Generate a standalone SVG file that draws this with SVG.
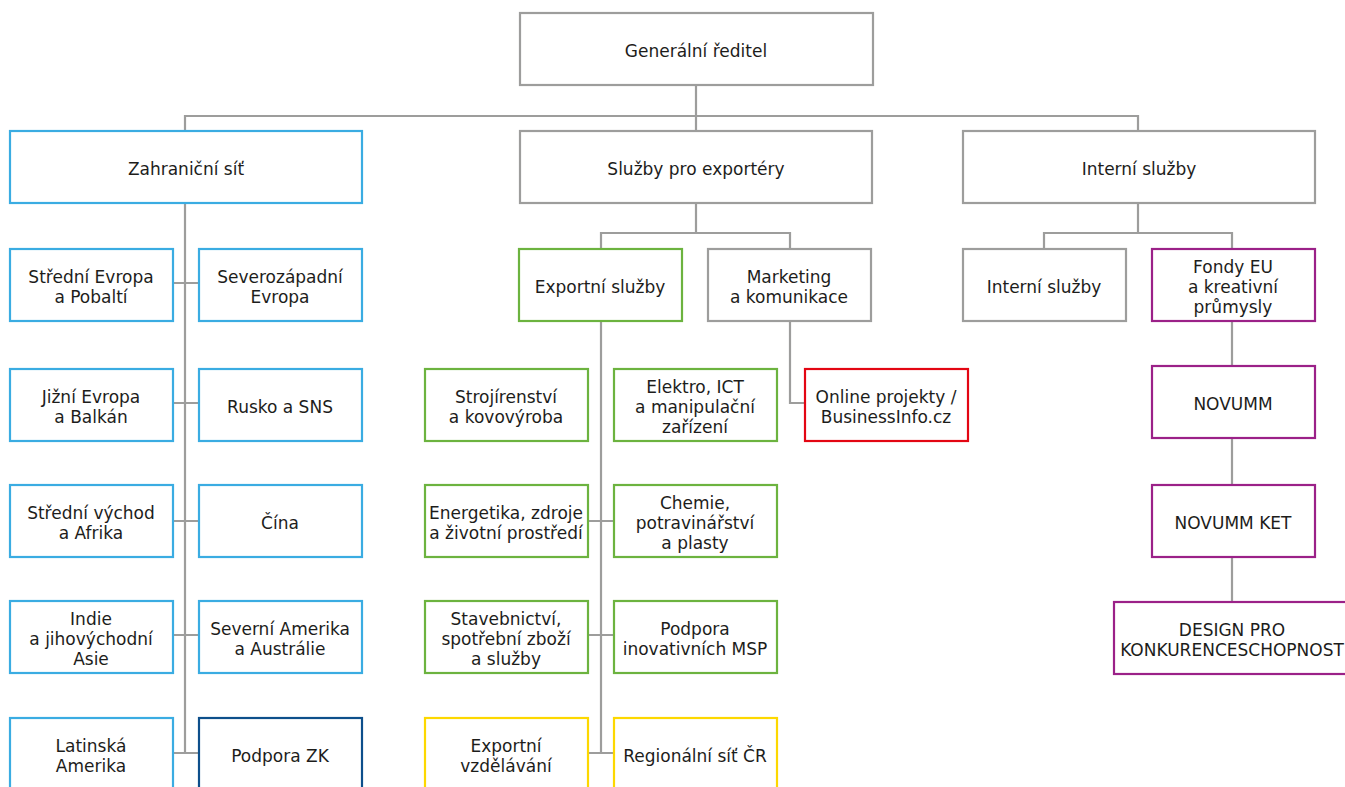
<svg xmlns="http://www.w3.org/2000/svg" width="1345" height="787" viewBox="0 0 1345 787">
<style>
rect{fill:#fff;stroke-width:2.2}
.g{stroke:#9d9d9c}
.b{stroke:#3aace2}
.db{stroke:#0d4f8b}
.gr{stroke:#6cb33f}
.y{stroke:#fdd800}
.r{stroke:#e30613}
.p{stroke:#9b2188}
text{font-family:"DejaVu Sans","Open Sans",sans-serif;font-size:17px;fill:#1d1d1b;text-anchor:middle}
.c path{fill:none;stroke:#9d9d9c;stroke-width:2.2}
</style>
<rect width="1345" height="787" fill="#fff" stroke="none"/>
<g class="c" id="connectors">
<path d="M696 86V131M185 131V116H1138V131"/>
<path d="M185 204V753M173 283H199M173 403H199M173 521H199M173 635H199M173 753H199"/>
<path d="M696 204V233M601 249V233H790V249"/>
<path d="M601 322V753M589 521H613M589 635H613M589 753H613"/>
<path d="M790 322V403H805"/>
<path d="M1138 204V233M1044 249V233H1232V249"/>
<path d="M1232 322V366M1232 439V485M1232 558V602"/>
</g>
<g id="n-gr"><rect class="g" x="520" y="13" width="353" height="72"/><text x="696" y="56.5">Generální ředitel</text></g>
<g id="n-zs"><rect class="b" x="10" y="131" width="352" height="72"/><text x="186" y="174.5">Zahraniční síť</text></g>
<g id="n-spe"><rect class="g" x="520" y="131" width="352" height="72"/><text x="696" y="174.5">Služby pro exportéry</text></g>
<g id="n-is"><rect class="g" x="963" y="131" width="352" height="72"/><text x="1139" y="174.5">Interní služby</text></g>

<g id="n-sep"><rect class="b" x="10" y="249" width="163" height="72"/><text x="91" y="283">Střední Evropa<tspan x="91" dy="20">a Pobaltí</tspan></text></g>
<g id="n-sze"><rect class="b" x="199" y="249" width="163" height="72"/><text x="280" y="283">Severozápadní<tspan x="280" dy="20">Evropa</tspan></text></g>
<g id="n-jeb"><rect class="b" x="10" y="369" width="163" height="72"/><text x="91" y="403">Jižní Evropa<tspan x="91" dy="20">a Balkán</tspan></text></g>
<g id="n-rs"><rect class="b" x="199" y="369" width="163" height="72"/><text x="280" y="412.5">Rusko a SNS</text></g>
<g id="n-sva"><rect class="b" x="10" y="485" width="163" height="72"/><text x="91" y="519">Střední východ<tspan x="91" dy="20">a Afrika</tspan></text></g>
<g id="n-cina"><rect class="b" x="199" y="485" width="163" height="72"/><text x="280" y="528.5">Čína</text></g>
<g id="n-ija"><rect class="b" x="10" y="601" width="163" height="72"/><text x="91" y="625">Indie<tspan x="91" dy="20">a jihovýchodní</tspan><tspan x="91" dy="20">Asie</tspan></text></g>
<g id="n-saa"><rect class="b" x="199" y="601" width="163" height="72"/><text x="280" y="635">Severní Amerika<tspan x="280" dy="20">a Austrálie</tspan></text></g>
<g id="n-la"><rect class="b" x="10" y="718" width="163" height="74"/><text x="91" y="752">Latinská<tspan x="91" dy="20">Amerika</tspan></text></g>
<g id="n-pzk"><rect class="db" x="199" y="718" width="163" height="74"/><text x="280" y="761.5">Podpora ZK</text></g>

<g id="n-es"><rect class="gr" x="519" y="249" width="163" height="72"/><text x="600" y="292.5">Exportní služby</text></g>
<g id="n-mk"><rect class="g" x="708" y="249" width="163" height="72"/><text x="789" y="283">Marketing<tspan x="789" dy="20">a komunikace</tspan></text></g>
<g id="n-sk"><rect class="gr" x="425" y="369" width="163" height="72"/><text x="506" y="403">Strojírenství<tspan x="506" dy="20">a kovovýroba</tspan></text></g>
<g id="n-ict"><rect class="gr" x="614" y="369" width="163" height="72"/><text x="695" y="393">Elektro, ICT<tspan x="695" dy="20">a manipulační</tspan><tspan x="695" dy="20">zařízení</tspan></text></g>
<g id="n-op"><rect class="r" x="805" y="369" width="163" height="72"/><text x="886" y="403">Online projekty /<tspan x="886" dy="20">BusinessInfo.cz</tspan></text></g>
<g id="n-ezp"><rect class="gr" x="425" y="485" width="163" height="72"/><text x="506" y="519">Energetika, zdroje<tspan x="506" dy="20">a životní prostředí</tspan></text></g>
<g id="n-cpp"><rect class="gr" x="614" y="485" width="163" height="72"/><text x="695" y="509">Chemie,<tspan x="695" dy="20">potravinářství</tspan><tspan x="695" dy="20">a plasty</tspan></text></g>
<g id="n-ssz"><rect class="gr" x="425" y="601" width="163" height="72"/><text x="506" y="625">Stavebnictví,<tspan x="506" dy="20">spotřební zboží</tspan><tspan x="506" dy="20">a služby</tspan></text></g>
<g id="n-pim"><rect class="gr" x="614" y="601" width="163" height="72"/><text x="695" y="635">Podpora<tspan x="695" dy="20">inovativních MSP</tspan></text></g>
<g id="n-ev"><rect class="y" x="425" y="718" width="163" height="74"/><text x="506" y="752">Exportní<tspan x="506" dy="20">vzdělávání</tspan></text></g>
<g id="n-rsc"><rect class="y" x="614" y="718" width="163" height="74"/><text x="695" y="761.5">Regionální síť ČR</text></g>

<g id="n-is2"><rect class="g" x="963" y="249" width="163" height="72"/><text x="1044" y="292.5">Interní služby</text></g>
<g id="n-feu"><rect class="p" x="1152" y="249" width="163" height="72"/><text x="1233" y="273">Fondy EU<tspan x="1233" dy="20">a kreativní</tspan><tspan x="1233" dy="20">průmysly</tspan></text></g>
<g id="n-nov"><rect class="p" x="1152" y="366" width="163" height="72"/><text x="1233" y="409.5">NOVUMM</text></g>
<g id="n-ket"><rect class="p" x="1152" y="485" width="163" height="72"/><text x="1233" y="528.5">NOVUMM KET</text></g>
<g id="n-dpk"><rect class="p" x="1114" y="602" width="236" height="72"/><text x="1232" y="636">DESIGN PRO<tspan x="1232" dy="20">KONKURENCESCHOPNOST</tspan></text></g>
</svg>
